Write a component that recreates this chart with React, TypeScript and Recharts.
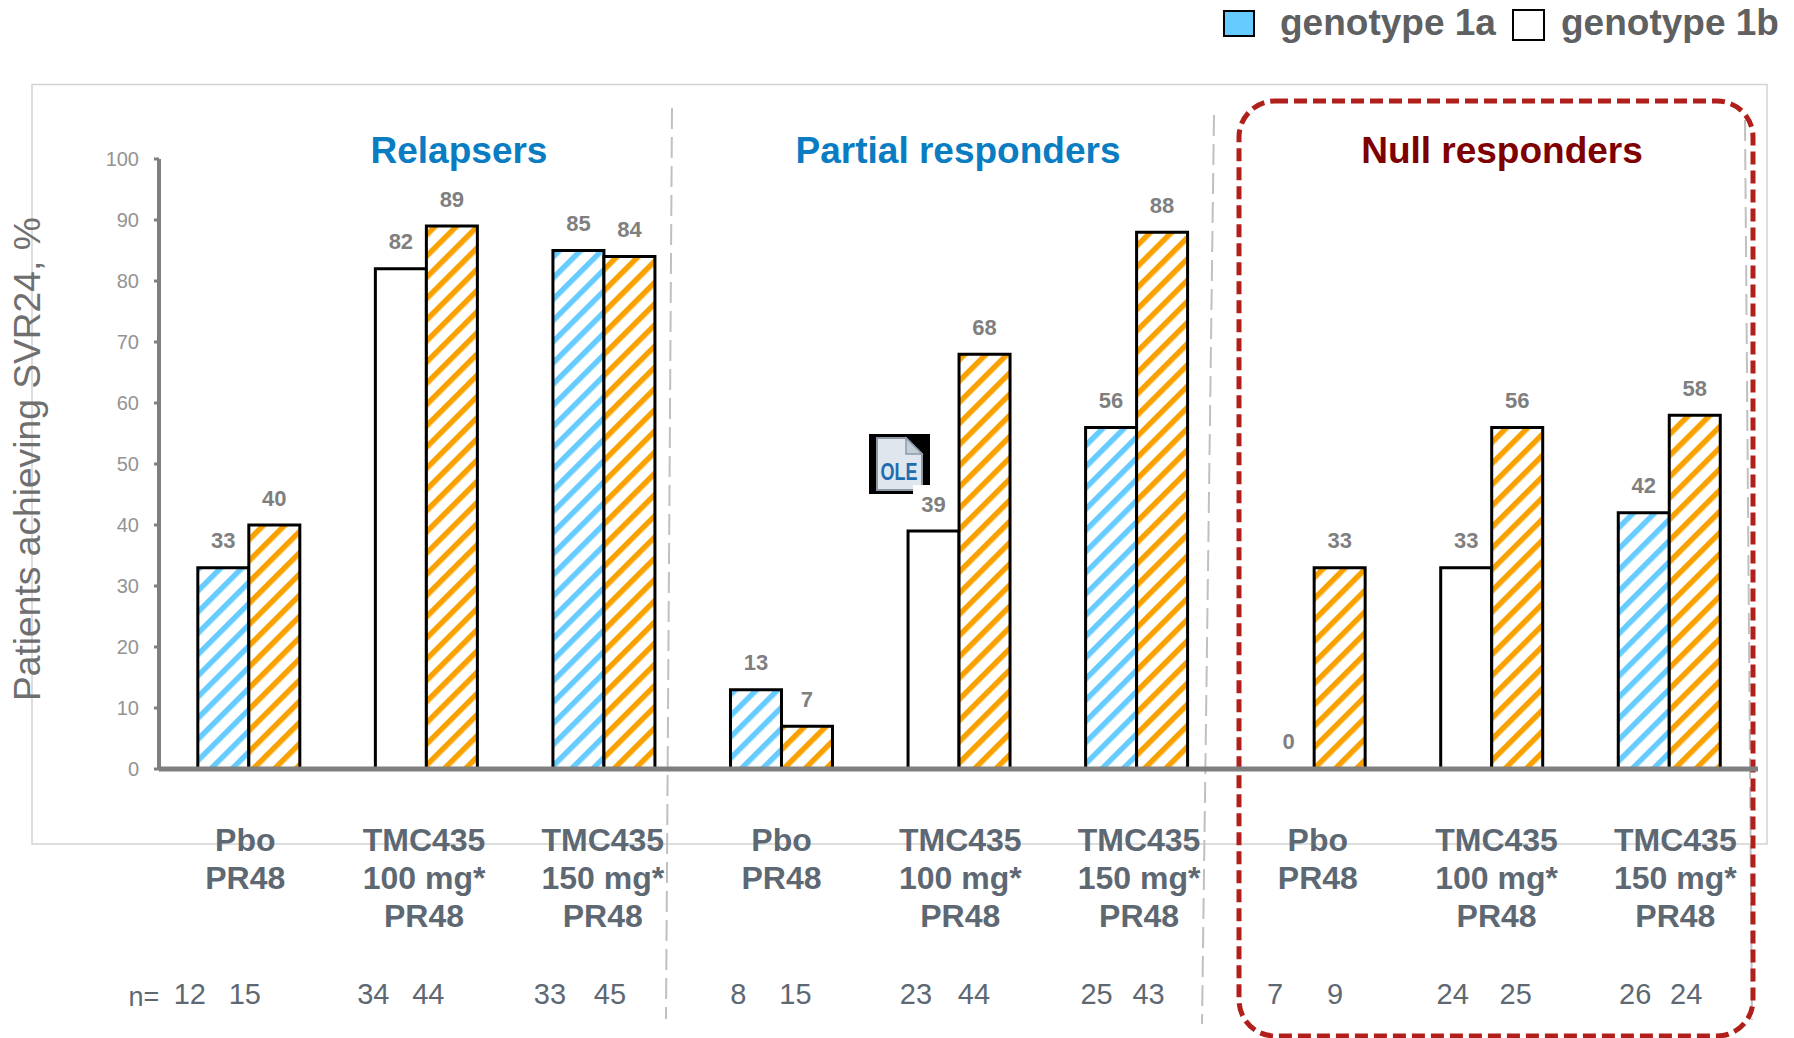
import React from 'react';
import { ComposedChart, Bar, Cell, LabelList, XAxis, YAxis } from 'recharts';

const doses = ['Pbo', '100', '150', 'Pbo', '100', '150', 'Pbo', '100', '150'];
const genotype1a = [33, 82, 85, 13, 39, 56, 0, 33, 42];
const genotype1b = [40, 89, 84, 7, 68, 88, 33, 56, 58];
const n1a = [12, 34, 33, 8, 23, 25, 7, 24, 26];
const n1b = [15, 44, 45, 15, 44, 43, 9, 25, 24];
const yTicks = [0, 10, 20, 30, 40, 50, 60, 70, 80, 90, 100];
const doseLines: Record<string, string[]> = {
  Pbo: ['Pbo', 'PR48'],
  '100': ['TMC435', '100 mg*', 'PR48'],
  '150': ['TMC435', '150 mg*', 'PR48'],
};

const chartData = doses.map((dose, i) => ({
  id: i,
  dose,
  a: genotype1a[i],
  b: genotype1b[i],
  n1a: n1a[i],
  n1b: n1b[i],
}));

const FONT = '"Liberation Sans", Arial, sans-serif';
const SLATE = '#5d6873';
const GREY = '#7f7f7f';

// the n= figures are not quite centred under the bars in the slide
const nOffsets = [
  [-59, -4],
  [-53, 2],
  [-54, 6],
  [-43, 14],
  [-43, 15],
  [-40, 12],
  [-39, 21],
  [-39, 24],
  [-34, 17],
];

const CategoryTick = ({ x, y, payload, index }: any) => {
  const i = payload.index ?? index;
  const lines = doseLines[doses[i]];
  const cx = x - 3.5 + i * 1.2;
  return (
    <g fontFamily={FONT}>
      {lines.map((line, k) => (
        <text
          key={k}
          x={cx}
          y={851 + k * 37.8}
          textAnchor="middle"
          fontSize={32}
          fontWeight="bold"
          fill={SLATE}
        >
          {line}
        </text>
      ))}
      <text x={x + nOffsets[i][0]} y={1004} textAnchor="middle" fontSize={29} fill={SLATE}>
        {n1a[i]}
      </text>
      <text x={x + nOffsets[i][1]} y={1004} textAnchor="middle" fontSize={29} fill={SLATE}>
        {n1b[i]}
      </text>
    </g>
  );
};

const Titles = () => (
  <g fontFamily={FONT} fontWeight="bold" fontSize={37} textAnchor="middle">
    <text x={459} y={163} fill="#0a7cc2">Relapsers</text>
    <text x={958} y={163} fill="#0a7cc2">Partial responders</text>
    <text x={1502} y={163} fill="#7f0000">Null responders</text>
  </g>
);

const OleIcon = () => (
  <g>
    <rect x={869} y={434} width={61} height={60} fill="#000" />
    <path d="M877 438 H906 L922 454 V490 H877 Z" fill="#dfe6ee" stroke="#8f9aa6" strokeWidth={2} />
    <path d="M906 438 V454 H922 Z" fill="#c4ced9" stroke="#8f9aa6" strokeWidth={1.5} />
    <text
      x={899}
      y={480}
      textAnchor="middle"
      fontFamily={FONT}
      fontWeight="bold"
      fontSize={23}
      fill="#1f6cae"
      textLength={37}
      lengthAdjust="spacingAndGlyphs"
    >
      OLE
    </text>
    <rect x={913} y={485} width={18} height={10} fill="#fff" />
  </g>
);

const Legend1 = () => (
  <g fontFamily={FONT} fontWeight="bold" fontSize={37} fill="#5f6062">
    <rect x={1224} y={11} width={30} height={25} fill="#66ccff" stroke="#000" strokeWidth={2} />
    <text x={1280} y={35}>genotype 1a</text>
    <rect x={1513} y={10} width={31} height={30} fill="#fff" stroke="#000" strokeWidth={2} />
    <text x={1561} y={35}>genotype 1b</text>
  </g>
);

const App = () => {
  return (
    <div style={{ position: 'absolute', left: 0, top: 0, width: 1794, height: 1038, overflow: 'hidden', background: '#fff' }}>
      <svg width={1794} height={1038} style={{ position: 'absolute', left: 0, top: 0 }}>
        <rect x={32} y={84.5} width={1735} height={759.5} fill="none" stroke="#d2d2d2" strokeWidth={1.5} />
        <line x1={672} y1={108} x2={666} y2={1019} stroke="#c0c0c0" strokeWidth={2} strokeDasharray="21 8" />
        <line x1={1214} y1={115} x2={1202} y2={1024} stroke="#c0c0c0" strokeWidth={2} strokeDasharray="21 8" />
        <line x1={1745} y1={120} x2={1752} y2={1020} stroke="#c0c0c0" strokeWidth={2} strokeDasharray="21 8" />
        <rect
          x={1239}
          y={101}
          width={514}
          height={935}
          rx={36}
          fill="none"
          stroke="#b01f1a"
          strokeWidth={5}
          strokeDasharray="13 6"
        />
      </svg>
      <div style={{ position: 'absolute', left: 0, top: 0 }}>
        <ComposedChart
          width={1794}
          height={1038}
          data={chartData}
          barCategoryGap="21.3%"
          barGap={0}
          margin={{ top: 159, right: 36, bottom: 0, left: 0 }}
        >
          <defs>
            <pattern id="hatchBlue" patternUnits="userSpaceOnUse" width={15} height={15} patternTransform="rotate(45)">
              <rect width={15} height={15} fill="#fff" />
              <rect width={5.5} height={15} fill="#66ccff" />
            </pattern>
            <pattern id="hatchOrange" patternUnits="userSpaceOnUse" width={15} height={15} patternTransform="rotate(45)">
              <rect width={15} height={15} fill="#fff" />
              <rect width={5.5} height={15} fill="#f9a100" />
            </pattern>
          </defs>
          <XAxis
            dataKey="id"
            height={269}
            interval={0}
            padding={{ left: 1, right: 0 }}
            tickLine={false}
            tick={<CategoryTick />}
            axisLine={{ stroke: GREY, strokeWidth: 5 }}
          />
          <YAxis
            width={159}
            domain={[0, 100]}
            ticks={yTicks}
            interval={0}
            axisLine={{ stroke: GREY, strokeWidth: 4 }}
            tickLine={{ stroke: GREY, strokeWidth: 3 }}
            tickSize={5}
            tick={{ fill: '#939393', fontSize: 20, fontFamily: FONT }}
            tickMargin={15}
            label={{
              value: 'Patients achieving SVR24, %',
              angle: -90,
              position: 'insideLeft',
              dx: 22,
              dy: 237,
              style: { fill: '#6f6f6f', fontSize: 37.2, fontFamily: FONT },
            }}
          />
          <Bar dataKey="a" strokeWidth={3} minPointSize={1} isAnimationActive={false}>
            {chartData.map((d) => (
              <Cell
                key={d.id}
                fill={d.a === 0 ? 'none' : d.dose === '100' ? '#fff' : 'url(#hatchBlue)'}
                stroke={d.a === 0 ? 'none' : '#000'}
              />
            ))}
            <LabelList dataKey="a" position="top" offset={19.5} fill={GREY} fontSize={22} fontWeight="bold" fontFamily={FONT} />
          </Bar>
          <Bar dataKey="b" fill="url(#hatchOrange)" stroke="#000" strokeWidth={3} isAnimationActive={false}>
            <LabelList dataKey="b" position="top" offset={19.5} fill={GREY} fontSize={22} fontWeight="bold" fontFamily={FONT} />
          </Bar>
        </ComposedChart>
      </div>
      <svg width={1794} height={1038} style={{ position: 'absolute', left: 0, top: 0, pointerEvents: 'none' }}>
        <text x={144} y={1006} textAnchor="middle" fontFamily={FONT} fontSize={27} fill={SLATE}>n=</text>
        <Titles />
        <OleIcon />
        <Legend1 />
      </svg>
    </div>
  );
};

export default App;
